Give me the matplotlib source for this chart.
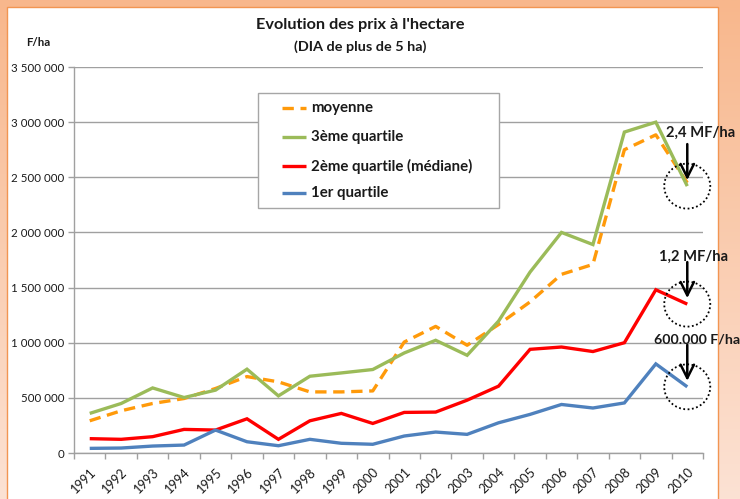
import matplotlib
matplotlib.use('Agg')
import matplotlib.pyplot as plt
import numpy as np
from matplotlib.patches import Rectangle, Ellipse
from matplotlib.lines import Line2D
from matplotlib.ticker import FuncFormatter, MultipleLocator, FixedLocator
from matplotlib.colors import LinearSegmentedColormap

plt.rcParams['font.family'] = ['Lato', 'DejaVu Sans']

# ---------------- data ----------------
years = [str(y) for y in range(1991, 2011)]
moyenne = [292e3, 383e3, 449e3, 494e3, 585e3, 693e3, 645e3, 554e3, 554e3, 563e3,
           1006e3, 1148e3, 977e3, 1165e3, 1370e3, 1620e3, 1710e3, 2750e3, 2885e3, 2450e3]
q3 = [359e3, 449e3, 590e3, 503e3, 570e3, 760e3, 518e3, 696e3, 726e3, 757e3,
      907e3, 1022e3, 886e3, 1196e3, 1640e3, 2000e3, 1890e3, 2910e3, 3000e3, 2420e3]
mediane = [130e3, 124e3, 148e3, 214e3, 208e3, 310e3, 124e3, 292e3, 359e3, 268e3,
           368e3, 371e3, 479e3, 606e3, 940e3, 961e3, 920e3, 1000e3, 1480e3, 1350e3]
q1 = [42e3, 45e3, 63e3, 72e3, 208e3, 102e3, 66e3, 124e3, 88e3, 79e3,
      154e3, 190e3, 169e3, 274e3, 350e3, 440e3, 408e3, 454e3, 808e3, 600e3]

labels = ["moyenne", "3ème quartile", "2ème quartile (médiane)", "1er quartile"]
annot_texts = ["2,4 MF/ha", "1,2 MF/ha", "600.000 F/ha"]

title = "Evolution des prix à l'hectare"
subtitle = "(DIA de plus de 5 ha)"
ylabel = "F/ha"

# ---------------- styles ----------------
c_orange = '#FF9A0A'
c_green = '#9BBB59'
c_red = '#FF0000'
c_blue = '#4F81BD'
styles = [dict(color=c_orange, lw=2.4, ls=(0, (3.4, 2.0))),
          dict(color=c_green, lw=2.4, ls='-'),
          dict(color=c_red, lw=2.4, ls='-'),
          dict(color=c_blue, lw=2.4, ls='-')]
txt_color = '#1a1a1a'
grid_color = '#A0A0A0'

W, H = 740, 499
fig = plt.figure(figsize=(W / 100, H / 100), dpi=100)

# background gradient border and white panel
bg = fig.add_axes([0, 0, 1, 1], zorder=0)
bg.set_xlim(0, W)
bg.set_ylim(H, 0)
bg.axis('off')
grad = np.linspace(0, 1, 256).reshape(-1, 1)
cmap = LinearSegmentedColormap.from_list('g', ['#F8B78C', '#FCE2D4'])
bg.imshow(grad, cmap=cmap, extent=[0, W, H, 0], aspect='auto')
bg.add_patch(Rectangle((7, 7), 710.5, H, facecolor='white', edgecolor='#F29552', lw=1.0))

# main axes
ax = fig.add_axes([74 / W, (H - 453) / H, (703 - 74) / W, (453 - 67) / H], zorder=2)
ax.patch.set_alpha(0)
x = np.arange(len(years))
series = [moyenne, q3, mediane, q1]
for s, st in zip(series, styles):
    ax.plot(x, s, solid_capstyle='butt', dash_capstyle='butt', solid_joinstyle='miter', **st)

ax.set_xlim(-0.5, len(years) - 0.5)
ax.set_ylim(0, 3.5e6)
ax.yaxis.set_major_locator(MultipleLocator(5e5))
ax.yaxis.set_major_formatter(FuncFormatter(lambda v, p: f"{int(round(v)):,}".replace(',', ' ')))
ax.grid(axis='y', color=grid_color, lw=1.0)
ax.set_axisbelow(True)
for sp in ['top', 'right']:
    ax.spines[sp].set_visible(False)
for sp in ['left', 'bottom']:
    ax.spines[sp].set_color(grid_color)
    ax.spines[sp].set_linewidth(1.0)

ax.set_xticks(x)
ax.set_xticklabels(years, rotation=45, ha='right', va='top', rotation_mode='anchor',
                   fontsize=9.3, color=txt_color)
ax.tick_params(axis='x', which='major', length=0, pad=9)
ax.xaxis.set_minor_locator(FixedLocator(np.arange(-0.5, len(years), 1.0)))
ax.tick_params(axis='x', which='minor', length=4, color=grid_color, width=1)
ax.tick_params(axis='y', length=4, color=grid_color, width=1, labelsize=8.3,
               labelcolor=txt_color, pad=3)

# titles
fig.text(360 / W, 1 - 25 / H, title, ha='center', va='center', fontsize=11.7,
         fontweight='bold', color=txt_color)
fig.text(360 / W, 1 - 47 / H, subtitle, ha='center', va='center', fontsize=10.4,
         fontweight='bold', color=txt_color)
fig.text(38 / W, 1 - 43 / H, ylabel, ha='center', va='center', fontsize=8.3,
         fontweight='bold', color=txt_color)

# overlay for legend and annotations (pixel coordinates, y down)
ov = fig.add_axes([0, 0, 1, 1], zorder=5)
ov.set_xlim(0, W)
ov.set_ylim(H, 0)
ov.axis('off')
ov.patch.set_alpha(0)

# legend
lx0, ly0, lx1, ly1 = 258, 93, 499, 208
ov.add_patch(Rectangle((lx0, ly0), lx1 - lx0, ly1 - ly0, facecolor='white',
                       edgecolor='#A6A6A6', lw=1.0))
row_y = [108, 137, 166, 193]
for lab, st, ry in zip(labels, styles, row_y):
    ov.add_line(Line2D([282, 306], [ry, ry], solid_capstyle='butt', dash_capstyle='butt', **st))
    ov.text(311, ry, lab, ha='left', va='center', fontsize=10.8, fontweight='bold',
            color=txt_color)

# annotations at last points
fig.canvas.draw()
last = len(years) - 1
offsets = [(13, -53), (6, -47), (-33, -47)]
aligns = ['center', 'center', 'left']
sizes = [10.6, 10.6, 10.2]
for s, t, (dx, dy), al, fs in zip([q3, mediane, q1], annot_texts, offsets, aligns, sizes):
    px, py = ax.transData.transform((last, s[last]))
    py = H - py
    ov.add_patch(Ellipse((px, py), 46, 45, facecolor='none', edgecolor='black',
                         lw=1.3, ls=(0, (1, 1.4))))
    ov.annotate('', xy=(px, py - 6), xytext=(px, py - 42),
                arrowprops=dict(arrowstyle='->', lw=1.8, color='black',
                                mutation_scale=24, shrinkA=0, shrinkB=0))
    ov.text(px + dx, py + dy, t, ha=al, va='center', fontsize=fs, fontweight='bold',
            color=txt_color)

fig.savefig('out.png', dpi=100)
